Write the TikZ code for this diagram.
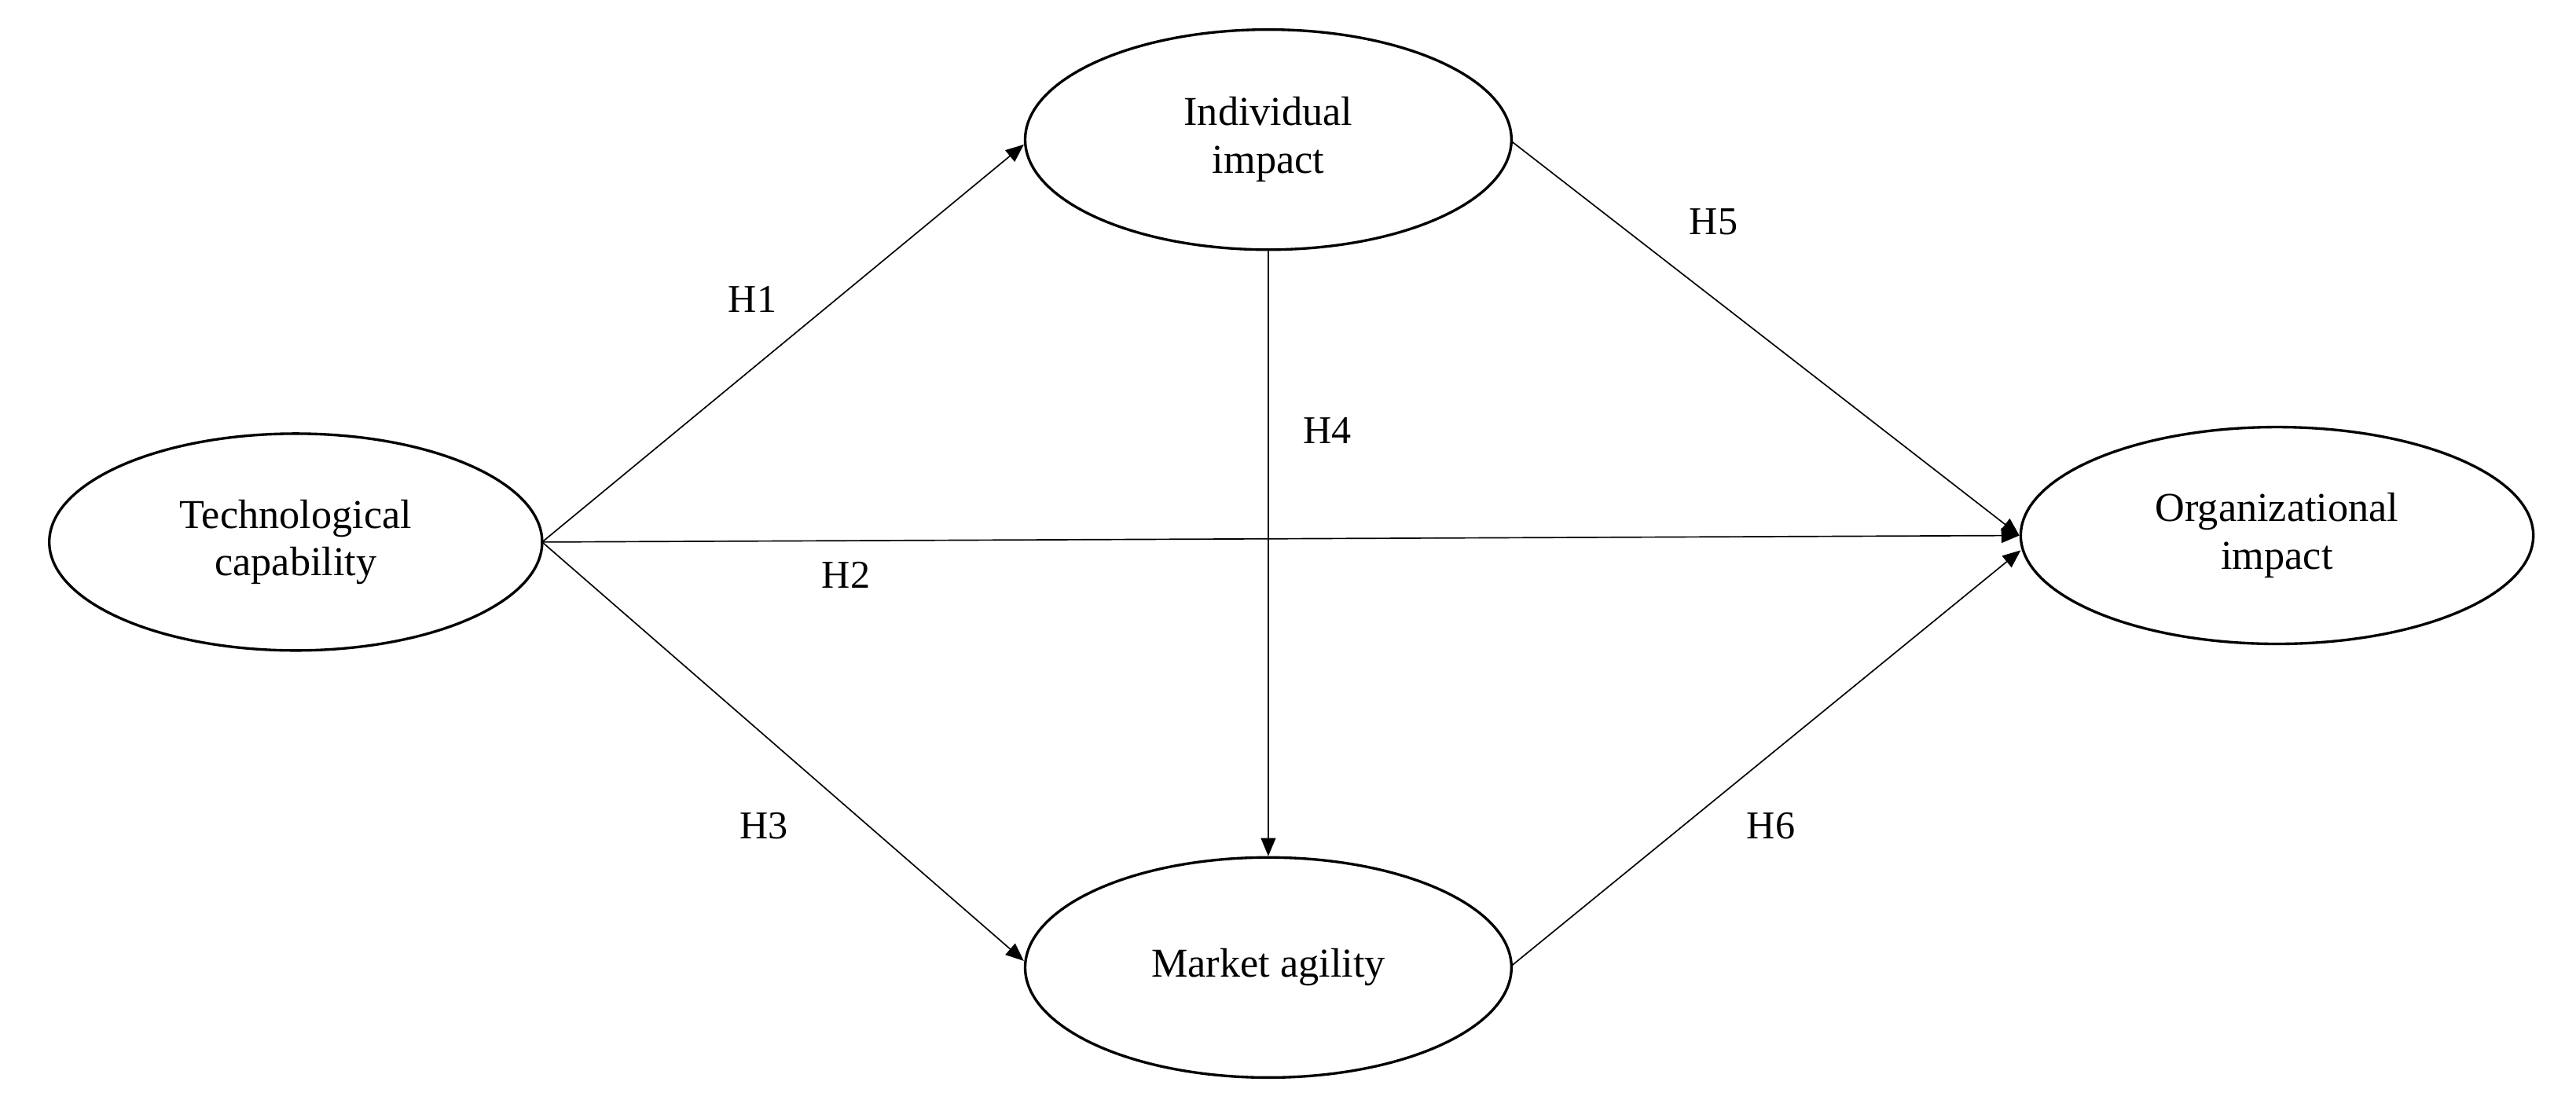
\documentclass[tikz,border=0pt]{standalone}
\usepackage{fontspec}
\setmainfont{Liberation Serif}
\usetikzlibrary{shapes.geometric,arrows.meta}
\begin{document}
\begin{tikzpicture}[x=1pt,y=-1pt,
  construct/.style={ellipse,draw,line width=1.6pt,align=center,font=\fontsize{25}{29}\selectfont,inner sep=0pt},
  link/.style={draw,line width=0.8pt,-{Triangle[length=11pt,width=9pt]}},
  hlab/.style={font=\fontsize{24}{28}\selectfont}]
\useasboundingbox (0,0) rectangle (1568,676);
\node[construct,minimum width=300pt,minimum height=132pt] (tc) at (180,330) {Technological\\capability};
\node[construct,minimum width=296pt,minimum height=134pt] (ii) at (772,85) {Individual\\impact};
\node[construct,minimum width=296pt,minimum height=134pt] (ma) at (772,589) {Market agility};
\node[construct,minimum width=312pt,minimum height=132pt] (oi) at (1386,326) {Organizational\\impact};
\coordinate (tcR) at (330,330);
\draw[link] (tcR) -- (ii.west |- 0,88) ;
\draw[link] (tcR) -- (oi.west);
\draw[link] (tcR) -- (ma.west |- 0,585);
\draw[link] (ii.south) -- (ma.north);
\draw[link] (920,86) -- (oi.west);
\draw[link] (920,588) -- (1230,335);
\node[hlab] (h1) at (458,182) {H1};
\node[hlab] (h2) at (515,350) {H2};
\node[hlab] (h3) at (465,503) {H3};
\node[hlab] (h4) at (808,262) {H4};
\node[hlab] (h5) at (1043,135) {H5};
\node[hlab] (h6) at (1078,503) {H6};
\end{tikzpicture}
\end{document}
